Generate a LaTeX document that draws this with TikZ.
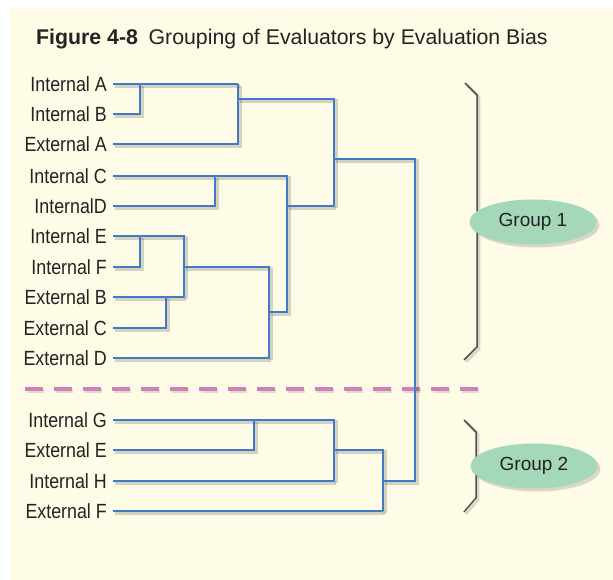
\documentclass[tikz,border=0pt]{standalone}
\usepackage{fontspec}
\setmainfont{Liberation Sans}
\newfontfamily\condfont[FakeStretch=0.87]{Liberation Sans}
\usetikzlibrary{shapes.geometric}
\definecolor{cream}{RGB}{254,251,230}
\definecolor{denblue}{RGB}{66,122,200}
\definecolor{dashpink}{RGB}{208,128,184}
\definecolor{grpgreen}{RGB}{164,216,184}
\definecolor{brkgray}{RGB}{80,80,80}
\definecolor{txt}{RGB}{35,35,35}
\tikzset{
  lbl/.style={anchor=east, inner xsep=6pt, inner ysep=0pt, text=txt,
    font=\condfont\fontsize{20.5}{20.5}\selectfont, text height=14.6pt, text depth=0pt},
  den/.style={draw=denblue, line width=2.8pt, line join=miter},
  dshadow/.style={draw=black, opacity=0.16, line width=4pt, line join=miter,
    transform canvas={xshift=1.5pt, yshift=-2pt}},
  brk/.style={draw=brkgray, line width=1.5pt},
  dashline/.style={draw=dashpink, line width=4.5pt, dash pattern=on 17.5pt off 11.5pt},
  grp/.style={ellipse, fill=grpgreen, minimum width=127pt, minimum height=45pt,
    inner sep=0pt, text=txt, font=\fontsize{19}{19}\selectfont},
  grpshadow/.style={ellipse, fill=black, opacity=0.14, minimum width=127pt, minimum height=45pt,
    inner sep=0pt}
}
\newcommand\dendro[1]{%
  \draw[#1] (ia.east) -- (238,84);
  \draw[#1] (ib.east) -- (140,114) -- (140,84);
  \draw[#1] (ea.east) -- (238,144) -- (238,84);
  \draw[#1] (238,99) -- (334,99) -- (334,206);
  \draw[#1] (334,159) -- (415,159) -- (415,481) -- (383,481);
  \draw[#1] (ic.east) -- (287,176) -- (287,312) -- (269,312);
  \draw[#1] (id.east) -- (215,206) -- (215,176);
  \draw[#1] (287,206) -- (334,206);
  \draw[#1] (ie.east) -- (184,236) -- (184,297);
  \draw[#1] (if.east) -- (140,267) -- (140,236);
  \draw[#1] (eb.east) -- (184,297);
  \draw[#1] (ec.east) -- (166,328) -- (166,297);
  \draw[#1] (184,267) -- (269,267) -- (269,358);
  \draw[#1] (ed.east) -- (269,358);
  \draw[#1] (ig.east) -- (334,420) -- (334,481);
  \draw[#1] (ee.east) -- (254,450) -- (254,420);
  \draw[#1] (ih.east) -- (334,481);
  \draw[#1] (334,450) -- (383,450) -- (383,511);
  \draw[#1] (ef.east) -- (383,511);
}
\begin{document}
\begin{tikzpicture}[x=1pt, y=-1pt]
\useasboundingbox (0,0) rectangle (613,580);
\fill[cream] (10,8) rectangle (613,580);

\node[anchor=base west, inner sep=0pt, text=txt, font=\fontsize{21.3}{21.3}\selectfont] (title) at (36,45)
  {\textbf{Figure 4-8}\hspace{0.5em}Grouping of Evaluators by Evaluation Bias};

\node[lbl] (ia) at (113,84) {Internal A};
\node[lbl] (ib) at (113,114) {Internal B};
\node[lbl] (ea) at (113,144) {External A};
\node[lbl] (ic) at (113,176) {Internal C};
\node[lbl] (id) at (113,206) {InternalD};
\node[lbl] (ie) at (113,236) {Internal E};
\node[lbl] (if) at (113,267) {Internal F};
\node[lbl] (eb) at (113,297) {External B};
\node[lbl] (ec) at (113,328) {External C};
\node[lbl] (ed) at (113,358) {External D};
\node[lbl] (ig) at (113,420) {Internal G};
\node[lbl] (ee) at (113,450) {External E};
\node[lbl] (ih) at (113,481) {Internal H};
\node[lbl] (ef) at (113,511) {External F};

% dashed separator
\draw[dashline, draw=black, opacity=0.12, transform canvas={xshift=1.5pt, yshift=-2pt}] (25,389) -- (478,389);
\draw[dashline] (25,389) -- (478,389);

% dendrogram
\dendro{dshadow}
\dendro{den}

% brackets
\draw[brk, draw=black, opacity=0.15, line width=2.5pt, transform canvas={xshift=2pt, yshift=-2pt}] (465,83) -- (477,95) -- (477,347) -- (464,360);
\draw[brk, draw=black, opacity=0.15, line width=2.5pt, transform canvas={xshift=2pt, yshift=-2pt}] (464,420) -- (476,432) -- (476,498) -- (464,512);
\draw[brk] (465,83) -- (477,95) -- (477,347) -- (464,360);
\draw[brk] (464,420) -- (476,432) -- (476,498) -- (464,512);

% groups
\node[grpshadow] (g1s) at (536,225) {};
\node[grpshadow] (g2s) at (537,469) {};
\node[grp] (g1) at (533,222) {Group 1};
\node[grp] (g2) at (534,466) {Group 2};
\end{tikzpicture}
\end{document}
